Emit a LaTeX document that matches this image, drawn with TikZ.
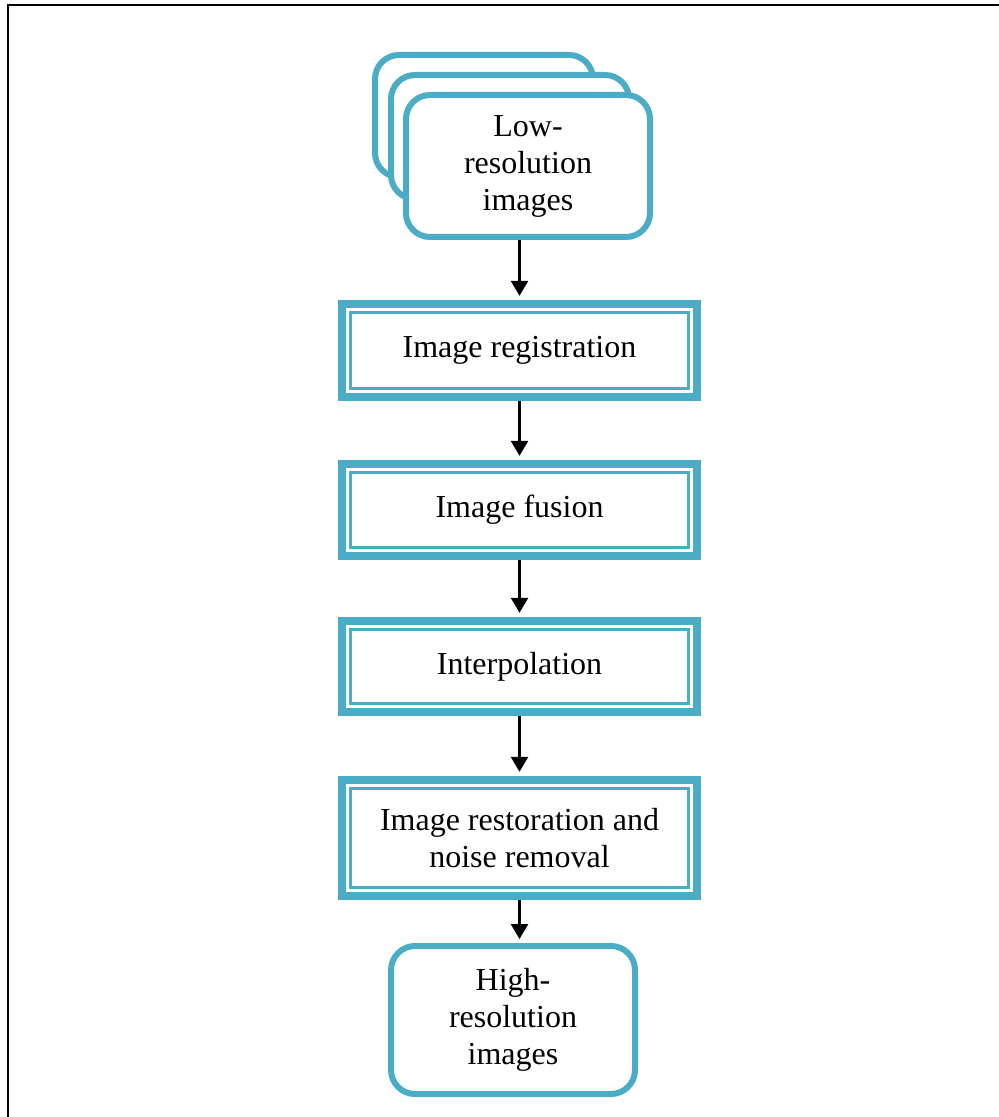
\documentclass[tikz,border=0pt]{standalone}
\usepackage{fontspec}
\setmainfont{Liberation Serif}
\usepackage{xcolor}
\usetikzlibrary{arrows.meta}
\definecolor{aqua}{HTML}{4BACC6}

\begin{document}
\begin{tikzpicture}[x=0.5pt, y=-0.5pt, font=\fontsize{16}{18.5}\selectfont,
  >={Triangle[width=8.5pt,length=7.5pt]},
  stackbox/.style={draw=aqua, line width=3pt, rounded corners=12pt, fill=white, align=center, inner sep=0pt},
  stepbox/.style={draw=aqua, line width=4.2pt, fill=white, minimum width=177.5pt, align=center, inner sep=0pt},
  innerline/.style={draw=aqua, line width=1.2pt},
  flow/.style={->, line width=1.3pt, shorten >=2pt}]
  \useasboundingbox (0,0) rectangle (999,1117);
  \draw[line width=1.2pt] (8,1117) -- (8,5) -- (999,5);

  \node[stackbox, minimum width=109pt, minimum height=61pt] (low3) at (484,116) {};
  \node[stackbox, minimum width=119pt, minimum height=62pt] (low2) at (510,137) {};
  \node[stackbox, minimum width=122pt, minimum height=71pt] (low1) at (528,166) {Low-\\resolution\\images};

  \node[stepbox, minimum height=46.5pt] (reg) at (519.5,350.5) {Image registration};
  \node[stepbox, minimum height=46pt] (fus) at (519.5,510) {Image fusion};
  \node[stepbox, minimum height=45.5pt] (interp) at (519.5,666.5) {Interpolation};
  \node[stepbox, minimum height=58pt] (rest) at (519.5,838) {Image restoration and\\noise removal};
  \foreach \n in {reg,fus,interp,rest}
    \draw[innerline] ([shift={(6.3pt,6.3pt)}]\n.south west) rectangle ([shift={(-6.3pt,-6.3pt)}]\n.north east);

  \node[stackbox, minimum width=122pt, minimum height=74pt] (high) at (513,1020) {High-\\resolution\\images};

  \draw[flow] (low1.south -| reg.north) -- (reg.north);
  \draw[flow] (reg.south) -- (fus.north);
  \draw[flow] (fus.south) -- (interp.north);
  \draw[flow] (interp.south) -- (rest.north);
  \draw[flow] (rest.south) -- (rest.south |- high.north);
\end{tikzpicture}
\end{document}
